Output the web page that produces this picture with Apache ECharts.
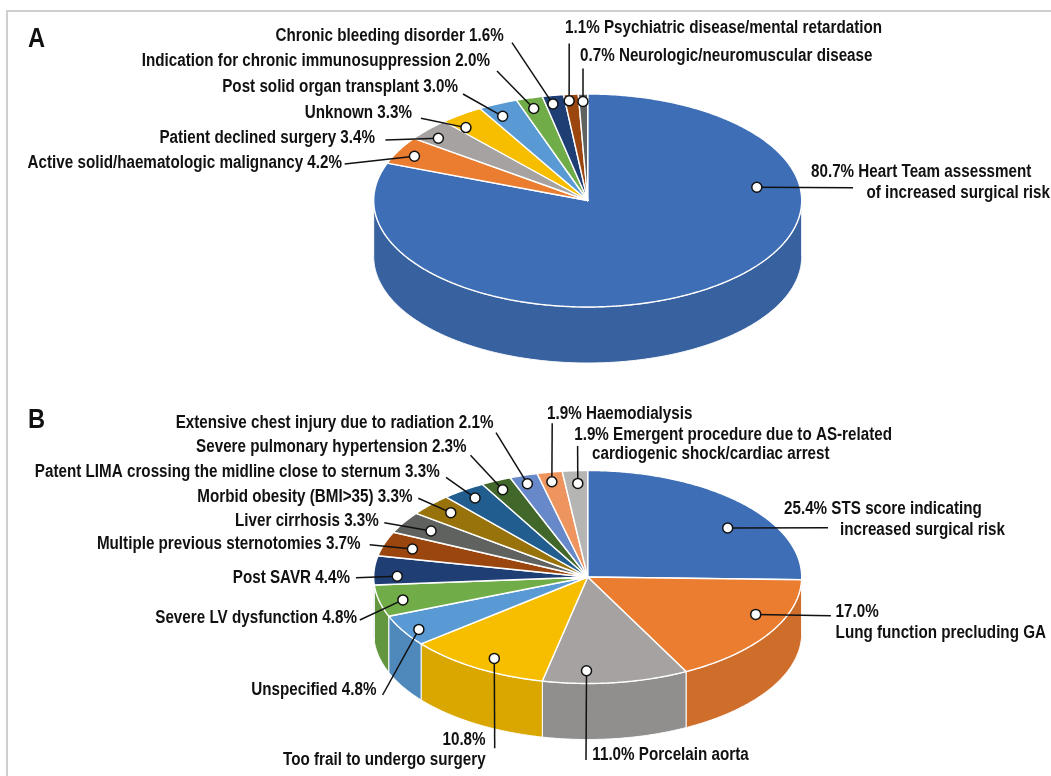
<!DOCTYPE html>
<html><head><meta charset="utf-8">
<script src="https://cdn.jsdelivr.net/npm/echarts@6/dist/echarts.min.js"></script>
<style>html,body{margin:0;padding:0;background:#fff}#c{width:1051px;height:776px}</style>
</head><body><div id="c"></div>
<script>
// ---------- DATA ----------
const catsA = ['Heart Team assessment of increased surgical risk','Active solid/haematologic malignancy','Patient declined surgery','Unknown','Post solid organ transplant','Indication for chronic immunosuppression','Chronic bleeding disorder','Psychiatric disease/mental retardation','Neurologic/neuromuscular disease'];
const valsA = [80.7, 4.2, 3.4, 3.3, 3.0, 2.0, 1.6, 1.1, 0.7];

const catsB = ['STS score indicating increased surgical risk','Lung function precluding GA','Porcelain aorta','Too frail to undergo surgery','Unspecified','Severe LV dysfunction','Post SAVR','Multiple previous sternotomies','Liver cirrhosis','Morbid obesity (BMI>35)','Patent LIMA crossing the midline close to sternum','Severe pulmonary hypertension','Extensive chest injury due to radiation','Haemodialysis','Emergent procedure due to AS-related cardiogenic shock/cardiac arrest'];
const valsB = [25.4, 17.0, 11.0, 10.8, 4.8, 4.8, 4.4, 3.7, 3.3, 3.3, 3.3, 2.3, 2.1, 1.9, 1.9];

// ---------- STYLE / LAYOUT ----------
const paletteA = ['#3E6EB5','#EB7D31','#A5A2A1','#F7BE00','#5A9AD4','#70AC48','#1F3F74','#9C460F','#5F625F'];
const paletteB = ['#3E6EB5','#EB7D31','#A5A2A1','#F7BE00','#5A9AD4','#70AC48','#1F3F74','#9C460F','#5F625F','#98730C','#215E8F','#41672A','#6789CA','#EE955F','#B5B5B3'];

const geoA = {cx: 587.7, cy: 200.5, rx: 214, ry: 106.5, depth: 56};
const geoB = {cx: 587.7, cy: 577.0, rx: 214, ry: 106.5, depth: 56};

// dot: [fraction along slice angle, fraction of radius]; end: leader end; fmt: nv = name value, vn = value name; brk: words on first line
const labelsA = [
  {dot:[0.279,0.80], end:[853,187.7], fmt:'vn', brk:3, lines:[[811,172.5,'left'],[866.5,193,'left']]},
  {dot:[0.44,0.91], end:[344.7,164], fmt:'nv', lines:[[342,163.5,'right']]},
  {dot:[0.35,0.91], end:[385.4,140], fmt:'nv', lines:[[375,138.3,'right']]},
  {dot:[0.20,0.89], end:[421,118.3], fmt:'nv', lines:[[412,113,'right']]},
  {dot:[0.33,0.885], end:[463,94], fmt:'nv', lines:[[458,87.5,'right']]},
  {dot:[0.44,0.90], end:[497,71], fmt:'nv', lines:[[490,61.5,'right']]},
  {dot:[0.36,0.92], end:[512,42.7], fmt:'nv', lines:[[503.7,36.5,'right']]},
  {dot:[0.30,0.94], end:[569.2,43.5], fmt:'vn', lines:[[565,28.5,'left']]},
  {dot:[0.46,0.93], end:[583,68.5], fmt:'vn', lines:[[580,56.5,'left']]}
];
const labelsB = [
  {dot:[0.60,0.80], end:[828,527.7], fmt:'vn', brk:3, lines:[[784,509,'left'],[840,530,'left']]},
  {dot:[0.37,0.86], end:[830.9,615.7], fmt:'vn', brk:0, lines:[[835.6,612,'left'],[835.6,633,'left']]},
  {dot:[0.70,0.88], end:[586,760], fmt:'vn', lines:[[592.3,755,'left']]},
  {dot:[0.45,0.88], end:[494.7,748.3], fmt:'vn', brk:0, lines:[[485.6,740.5,'right'],[485.6,760.5,'right']]},
  {dot:[0.40,0.93], end:[382.6,695], fmt:'nv', lines:[[376.4,690,'right']]},
  {dot:[0.44,0.89], end:[359.8,620], fmt:'nv', lines:[[357,617.7,'right']]},
  {dot:[0.30,0.89], end:[355.9,577.7], fmt:'nv', lines:[[350,577.7,'right']]},
  {dot:[0.47,0.86], end:[369.7,544.7], fmt:'nv', lines:[[360.6,544,'right']]},
  {dot:[0.48,0.85], end:[384.3,522.7], fmt:'nv', lines:[[378.8,520.7,'right']]},
  {dot:[0.56,0.88], end:[418.3,498.3], fmt:'nv', lines:[[412.4,496.7,'right']]},
  {dot:[0.51,0.91], end:[446,477.3], fmt:'nv', lines:[[439.7,471.7,'right']]},
  {dot:[0.44,0.91], end:[470.5,455.3], fmt:'nv', lines:[[466.6,447.3,'right']]},
  {dot:[0.45,0.92], end:[496,432.7], fmt:'nv', lines:[[493.5,423.3,'right']]},
  {dot:[0.45,0.91], end:[552.2,423.3], fmt:'vn', lines:[[547,414,'left']]},
  {dot:[0.56,0.88], end:[577.6,446], fmt:'vn', brk:5, lines:[[574.2,435,'left'],[592,454.5,'left']]}
];

const FONT = '"Liberation Sans", Arial, sans-serif';
const FSIZE = 18;
const SQUEEZE = 0.845;   // horizontal condensing of the bold sans face

// ---------- HELPERS ----------
function darken(hex, k) {
  const n = parseInt(hex.slice(1), 16);
  const r = Math.round(((n >> 16) & 255) * k), g = Math.round(((n >> 8) & 255) * k), b = Math.round((n & 255) * k);
  return 'rgb(' + r + ',' + g + ',' + b + ')';
}
function pt(g, a, r, dz) {
  return [g.cx + g.rx * r * Math.sin(a), g.cy - g.ry * r * Math.cos(a) + (dz || 0)];
}
function arc(g, a1, a2, dz) {
  const n = Math.max(2, Math.ceil(Math.abs(a2 - a1) / (Math.PI / 360)));
  const out = [];
  for (let i = 0; i <= n; i++) out.push(pt(g, a1 + (a2 - a1) * i / n, 1, dz));
  return out;
}
function angles(vals) {
  const total = vals.reduce((s, v) => s + v, 0);
  const st = []; let acc = 0;
  vals.forEach(v => { st.push([acc / total * 2 * Math.PI, (acc + v) / total * 2 * Math.PI]); acc += v; });
  return st;
}
function labelLines(name, v, L) {
  const p = v.toFixed(1) + '%';
  if (L.fmt === 'nv') return [name + ' ' + p];
  if (L.brk === undefined) return [p + ' ' + name];
  const w = name.split(' ');
  const first = w.slice(0, L.brk).join(' ');
  return [first ? p + ' ' + first : p, w.slice(L.brk).join(' ')];
}
function textEl(t, x, y, align, size) {
  return {type: 'text', x: x, y: y, scaleX: SQUEEZE, z2: 6,
    style: {text: t, x: 0, y: 0, align: align, verticalAlign: 'middle',
      fill: '#111', fontFamily: FONT, fontWeight: 'bold', fontSize: size}};
}

function panelSeries(cats, vals, palette, geo, labels) {
  const ang = angles(vals);
  const data = vals.map((v, i) => ({name: cats[i], value: v}));
  const side = {
    type: 'custom', coordinateSystem: 'none', z: 1, silent: true, data: data,
    renderItem: function (params, api) {
      const i = params.dataIndex;
      const a1 = Math.max(ang[i][0], Math.PI / 2), a2 = Math.min(ang[i][1], Math.PI * 1.5);
      if (a2 <= a1) return {type: 'group', children: []};
      const pts = arc(geo, a1, a2, 0).concat(arc(geo, a2, a1, geo.depth));
      return {type: 'polygon', shape: {points: pts},
        style: {fill: darken(palette[i], 0.88), stroke: '#ffffff', lineWidth: 1, lineJoin: 'round'}};
    }
  };
  const top = {
    type: 'custom', coordinateSystem: 'none', z: 2, silent: true, data: data,
    renderItem: function (params, api) {
      const i = params.dataIndex;
      const pts = [[geo.cx, geo.cy]].concat(arc(geo, ang[i][0], ang[i][1], 0));
      return {type: 'polygon', shape: {points: pts},
        style: {fill: palette[i], stroke: '#ffffff', lineWidth: 1.4, lineJoin: 'round'}};
    }
  };
  const lab = {
    type: 'custom', coordinateSystem: 'none', z: 3, silent: true, data: data,
    renderItem: function (params, api) {
      const i = params.dataIndex;
      const L = labels[i];
      const a = ang[i][0] + (ang[i][1] - ang[i][0]) * L.dot[0];
      const d = pt(geo, a, L.dot[1], 0);
      const txt = labelLines(cats[i], api.value(0), L);
      const children = [
        {type: 'line', shape: {x1: d[0], y1: d[1], x2: L.end[0], y2: L.end[1]},
          style: {stroke: '#111', lineWidth: 1.5}},
        {type: 'circle', shape: {cx: d[0], cy: d[1], r: 5}, z2: 5,
          style: {fill: '#ffffff', stroke: '#111', lineWidth: 1.5}}
      ];
      txt.forEach((t, k) => {
        const pos = L.lines[k];
        children.push(textEl(t, pos[0], pos[1], pos[2], FSIZE));
      });
      return {type: 'group', children: children};
    }
  };
  return [side, top, lab];
}

const chart = echarts.init(document.getElementById('c'), null, {renderer: 'canvas'});
chart.setOption({
  animation: false,
  backgroundColor: '#ffffff',
  graphic: [
    {type: 'rect', shape: {x: 7, y: 11, width: 1200, height: 900}, style: {fill: 'none', stroke: '#cfcfcf', lineWidth: 2}, silent: true},
    textEl('A', 28, 38.8, 'left', 28),
    textEl('B', 28, 420.5, 'left', 28)
  ],
  series: panelSeries(catsA, valsA, paletteA, geoA, labelsA).concat(panelSeries(catsB, valsB, paletteB, geoB, labelsB))
});
</script></body></html>
